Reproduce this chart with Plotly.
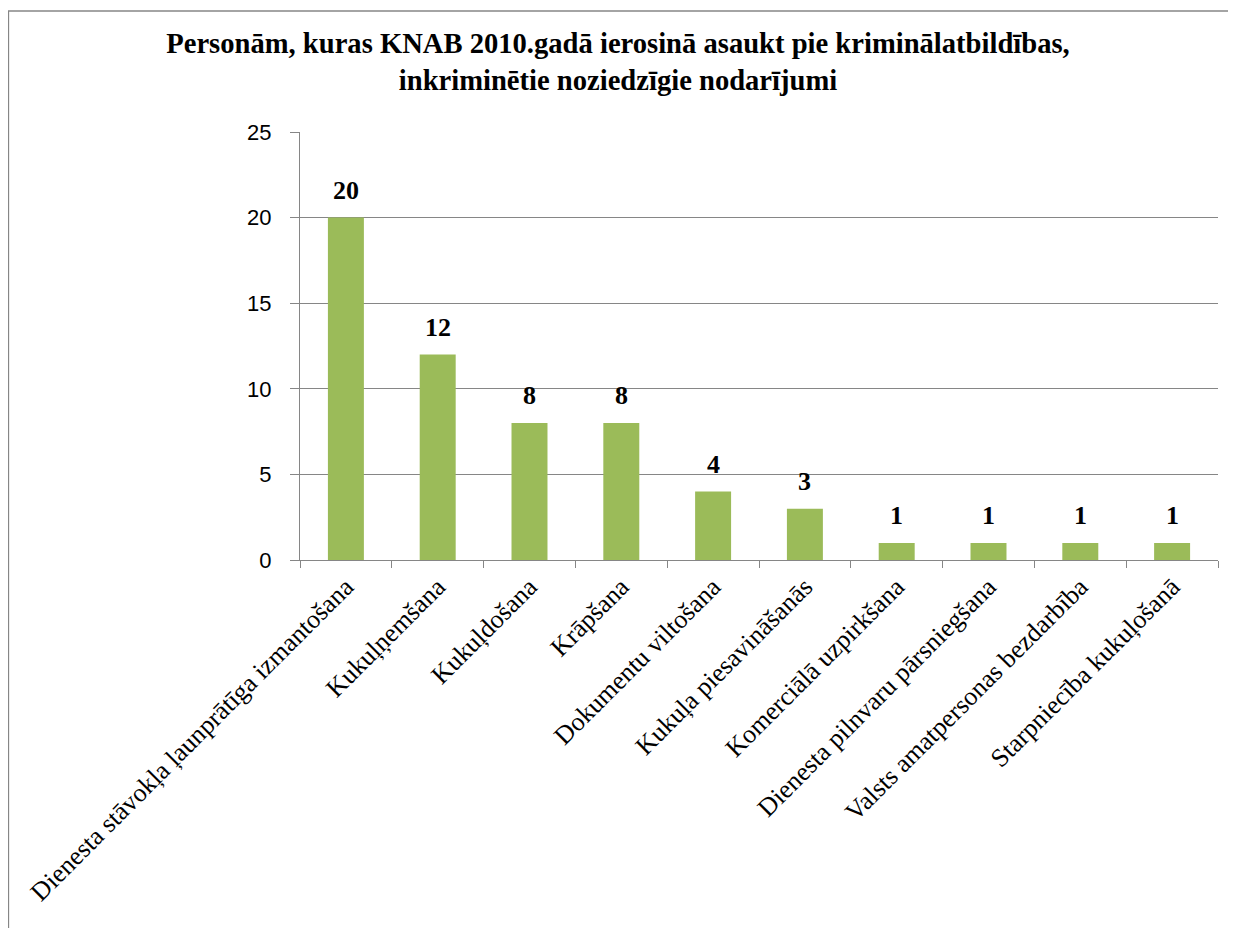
import plotly.graph_objects as go

categories = [
    "Dienesta stāvokļa ļaunprātīga izmantošana",
    "Kukuļņemšana",
    "Kukuļdošana",
    "Krāpšana",
    "Dokumentu viltošana",
    "Kukuļa piesavināšanās",
    "Komerciālā uzpirkšana",
    "Dienesta pilnvaru pārsniegšana",
    "Valsts amatpersonas bezdarbība",
    "Starpniecība kukuļošanā",
]
values = [20, 12, 8, 8, 4, 3, 1, 1, 1, 1]
y_ticks = [0, 5, 10, 15, 20, 25]
title_text = ("Personām, kuras KNAB 2010.gadā ierosinā asaukt pie kriminālatbildības,"
              "<br>inkriminētie noziedzīgie nodarījumi")

# page body has an 8px offset; figure coordinates = screen - 8
W, H = 1228, 920
L, R, T, B = 292, 18, 124, 368
pw, ph = W - L - R, H - T - B

fig = go.Figure(go.Bar(
    x=categories, y=values,
    marker=dict(color="#9BBB59", line=dict(width=0)),
    cliponaxis=False,
))

for c, v in zip(categories, values):
    fig.add_annotation(x=c, y=v, text="<b>%d</b>" % v, showarrow=False,
                       yanchor="bottom", yshift=11,
                       font=dict(family="Liberation Serif", size=26, color="black"))

fig.update_layout(
    width=W, height=H,
    margin=dict(l=L, r=R, t=T, b=B, autoexpand=False),
    paper_bgcolor="white", plot_bgcolor="white",
    bargap=0.608,
    showlegend=False,
    title=dict(text="<b>" + title_text + "</b>", x=610 / W, xanchor="center",
               y=1 - 45 / H, yanchor="top",
               font=dict(family="Liberation Serif", size=28.6, color="black")),
)
fig.update_xaxes(
    tickangle=-45, ticks="outside", ticklen=7, tickcolor="#868686", tickwidth=1.3,
    tickson="boundaries", showline=True, linecolor="#868686", linewidth=1.3,
    tickfont=dict(family="Liberation Serif", size=26, color="black"),
    showgrid=False,
)
fig.update_yaxes(
    range=[0, 25], tickvals=y_ticks, ticks="outside", ticklen=9, tickcolor="#868686",
    tickwidth=1.3, showline=True, linecolor="#868686", linewidth=1.3,
    showgrid=True, gridcolor="#868686", gridwidth=1.3, zeroline=False,
    ticklabelstandoff=14,
    tickfont=dict(family="Liberation Sans", size=22, color="black"),
)
fig.add_shape(type="rect", xref="paper", yref="paper",
              x0=(0.5 - L) / pw, x1=(W + 5 - L) / pw,
              y0=-(H + 5 - T - ph) / ph, y1=(H - B - 3) / ph,
              line=dict(color="#868686", width=1.3), fillcolor="rgba(0,0,0,0)", layer="below")
fig.write_html("out.html")
